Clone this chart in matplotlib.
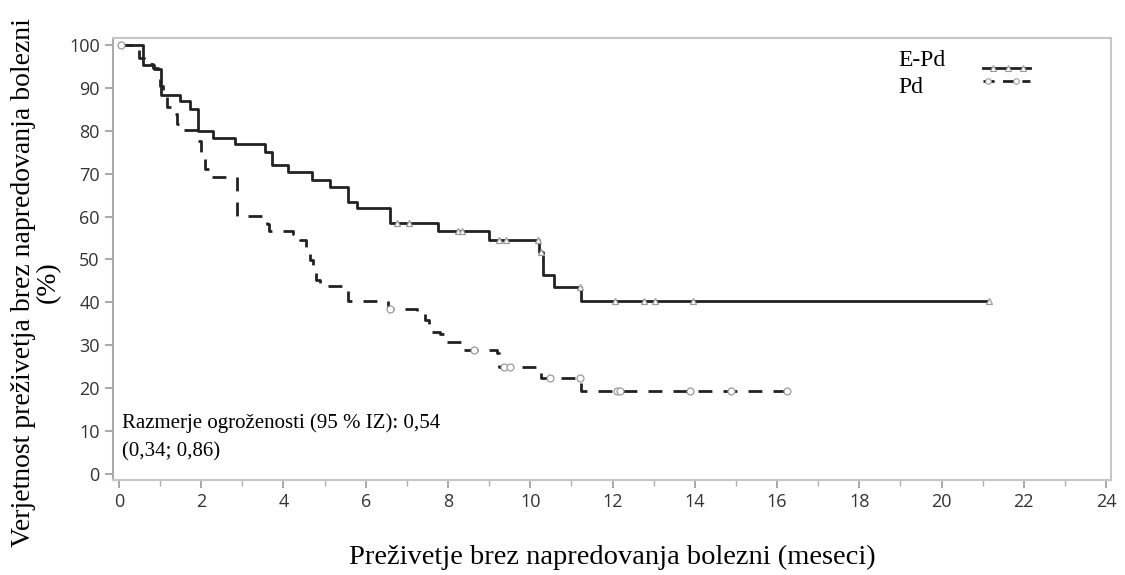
import matplotlib.pyplot as plt
from matplotlib.ticker import MultipleLocator

# =====================================================================================================================

# E-Pd step curve (time in months, survival %)
epd_t = [0, 0.58, 0.86, 1.02, 1.48, 1.72, 1.92, 2.29, 2.82, 3.55, 3.71, 4.12, 4.69, 5.13, 5.58, 5.78, 6.59, 7.76,
         8.99, 10.22, 10.30, 10.58, 11.24, 21.15]
epd_s = [100, 95.2, 94.4, 88.3, 86.8, 85.1, 80.0, 78.3, 76.8, 75.1, 71.9, 70.3, 68.5, 66.8, 63.5, 61.9, 58.4, 56.7,
         54.5, 51.8, 46.4, 43.5, 40.4, 40.4]
epd_cens_t = [6.75, 7.05, 8.25, 8.35, 9.25, 9.40, 10.20, 10.26, 11.20, 12.07, 12.76, 13.04, 13.96, 21.15]

# Pd step curve
pd_t = [0, 0.48, 0.60, 0.82, 0.95, 1.00, 1.08, 1.18, 1.30, 1.40, 1.47, 1.92, 2.00, 2.10, 2.20, 2.86, 3.59, 3.66,
        4.24, 4.40, 4.55, 4.65, 4.72, 4.80, 4.88, 5.58, 6.55, 7.24, 7.43, 7.55, 7.80, 7.95, 8.35, 9.18, 9.25, 10.25,
        11.24, 16.24]
pd_s = [100, 97.0, 95.5, 94.5, 92.5, 90.3, 88.0, 85.5, 84.0, 81.5, 80.2, 77.5, 74.5, 71.0, 69.2, 60.1, 58.3, 56.7,
        56.0, 54.5, 52.6, 49.9, 47.6, 45.2, 43.8, 40.4, 38.4, 37.2, 35.9, 33.2, 32.6, 30.7, 28.9, 28.1, 25.0, 22.3,
        19.4, 19.4]
pd_cens_t = [0.05, 6.60, 8.62, 9.35, 9.50, 10.49, 11.20, 12.10, 12.18, 13.89, 14.87, 16.24]

X_TICKS = list(range(0, 25, 2))
Y_TICKS = list(range(0, 101, 10))

TICK_FONT = "Open Sans"
TEXT_FONT = "Liberation Serif"
LINE_COLOR = "#222222"
FRAME_COLOR = "#c6c6c6"


def value_at(times, surv, t):
    # survival value of a step curve at time t
    v = surv[0]
    for ti, si in zip(times, surv):
        if ti <= t:
            v = si
    return v


# =====================================================================================================================

fig = plt.figure(figsize=(11.25, 5.75), dpi=100)
ax = fig.add_axes([0.1004, 0.165, 0.8872, 0.769])

ax.step(epd_t, epd_s, where="post", color=LINE_COLOR, lw=2.0, solid_capstyle="butt")
ax.step(pd_t, pd_s, where="post", color=LINE_COLOR, lw=2.0, linestyle=(0, (5, 4)))

ax.plot(epd_cens_t, [value_at(epd_t, epd_s, t) for t in epd_cens_t], linestyle="none", marker="^",
        markersize=5, markerfacecolor="white", markeredgecolor="#9a9a9a", markeredgewidth=0.9)
ax.plot(pd_cens_t, [value_at(pd_t, pd_s, t) for t in pd_cens_t], linestyle="none", marker="o",
        markersize=5, markerfacecolor="white", markeredgecolor="#9a9a9a", markeredgewidth=0.9)

ax.set_xlim(-0.146, 24.12)
ax.set_ylim(-1.4, 101.6)
ax.set_xticks(X_TICKS)
ax.set_yticks(Y_TICKS)
ax.xaxis.set_minor_locator(MultipleLocator(1))
ax.tick_params(axis="both", which="major", direction="out", length=6, width=1.2, color="#9a9a9a",
               labelsize=13, labelcolor="#333333")
ax.tick_params(axis="x", which="minor", direction="out", length=4, width=1.0, color="#b0b0b0")
for lab in ax.get_xticklabels() + ax.get_yticklabels():
    lab.set_fontfamily(TICK_FONT)
for sp in ax.spines.values():
    sp.set_color(FRAME_COLOR)
    sp.set_linewidth(1.5)
ax.spines["left"].set_linestyle((0, (1, 1)))
ax.spines["left"].set_color("#aaaaaa")

ax.set_xlabel("Preživetje brez napredovanja bolezni (meseci)", fontfamily=TEXT_FONT, fontsize=20.5, labelpad=24)
ax.set_ylabel("Verjetnost preživetja brez napredovanja bolezni\n(%)", fontfamily=TEXT_FONT, fontsize=20,
              linespacing=1.0)
ax.yaxis.set_label_coords(-0.052, 0.448)

ax.text(0.009, 0.152, "Razmerje ogroženosti (95 % IZ): 0,54\n(0,34; 0,86)", transform=ax.transAxes,
        fontfamily=TEXT_FONT, fontsize=15, va="top", ha="left", linespacing=1.7)

# legend drawn by hand
ax.text(0.787, 0.950, "E-Pd", transform=ax.transAxes, fontfamily=TEXT_FONT, fontsize=17, va="center")
ax.text(0.787, 0.887, "Pd", transform=ax.transAxes, fontfamily=TEXT_FONT, fontsize=17, va="center")
ax.plot([0.872, 0.919], [0.932, 0.932], transform=ax.transAxes, color=LINE_COLOR, lw=2.0)
ax.plot([0.882, 0.897, 0.912], [0.932] * 3, transform=ax.transAxes, linestyle="none", marker="^",
        markersize=4, markerfacecolor="white", markeredgecolor="#9a9a9a", markeredgewidth=0.8)
ax.plot([0.872, 0.919], [0.903, 0.903], transform=ax.transAxes, color=LINE_COLOR, lw=2.0,
        linestyle=(0, (4, 3)))
ax.plot([0.877, 0.905], [0.903] * 2, transform=ax.transAxes, linestyle="none", marker="o",
        markersize=4, markerfacecolor="white", markeredgecolor="#9a9a9a", markeredgewidth=0.8)

fig.savefig("out.png", dpi=100)
